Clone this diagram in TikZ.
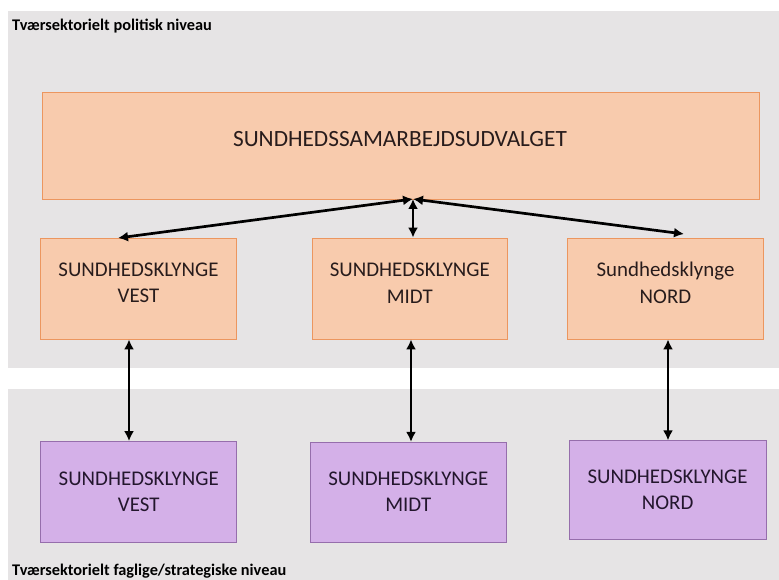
\documentclass[tikz,border=0pt]{standalone}
\usepackage{fontspec}
\setmainfont{Carlito}
\usetikzlibrary{arrows.meta}
\definecolor{panelgray}{RGB}{230,228,229}
\definecolor{orfill}{RGB}{248,203,173}
\definecolor{ordraw}{RGB}{236,150,95}
\definecolor{pufill}{RGB}{212,176,232}
\definecolor{pudraw}{RGB}{150,110,172}
\definecolor{txtdark}{RGB}{40,28,28}
\definecolor{txtpurp}{RGB}{35,22,45}
\tikzset{
  panel/.style={fill=panelgray, draw=none},
  orbox/.style={fill=orfill, draw=ordraw, line width=0.8pt},
  pubox/.style={fill=pufill, draw=pudraw, line width=0.8pt},
  boxtext/.style={font=\fontsize{20.9}{26.5}\selectfont, align=center, inner sep=0pt, text=txtdark},
  purtext/.style={boxtext, text=txtpurp},
  lvl/.style={font=\bfseries\fontsize{16.3}{18}\selectfont, anchor=base west, inner sep=0pt, text=black},
  conn/.style={line width=2.7pt, {Latex[length=10pt,width=10pt]}-{Latex[length=10pt,width=10pt]}},
}
\begin{document}
\begin{tikzpicture}[x=1pt,y=-1pt]
\useasboundingbox (0,0) rectangle (779,580);
\fill[white] (0,0) rectangle (779,580);
% panels
\path[panel] (8,11) rectangle (779,368);
\path[panel] (8,389) rectangle (779,580);
% top box
\path[orbox] (42,92) rectangle (759,199);
\node[boxtext, anchor=base, font=\fontsize{23.3}{26}\selectfont] (title) at (400,147) {SUNDHEDSSAMARBEJDSUDVALGET};
\coordinate (hub) at (413,199);
% orange boxes
\node[orbox, minimum width=196pt, minimum height=101pt, inner sep=0pt] (ov) at (138.7,288.5) {};
\node[orbox, minimum width=195pt, minimum height=101pt, inner sep=0pt] (om) at (409.8,288.5) {};
\node[orbox, minimum width=196pt, minimum height=101pt, inner sep=0pt] (on) at (665.5,288.5) {};
\node[boxtext] (tov) at (138.5,283) {SUNDHEDSKLYNGE\\VEST};
\node[boxtext] (tom) at (409.8,283) {SUNDHEDSKLYNGE\\MIDT};
\node[boxtext] (ton) at (665.5,283) {Sundhedsklynge\\NORD};
% purple boxes
\node[pubox, minimum width=196pt, minimum height=101pt, inner sep=0pt] (pv) at (138.7,492) {};
\node[pubox, minimum width=196pt, minimum height=100pt, inner sep=0pt] (pm) at (408.3,492.3) {};
\node[pubox, minimum width=197pt, minimum height=99pt, inner sep=0pt] (pn) at (667.6,490.3) {};
\node[purtext] (tpv) at (138.7,491.7) {SUNDHEDSKLYNGE\\VEST};
\node[purtext] (tpm) at (408.3,491.7) {SUNDHEDSKLYNGE\\MIDT};
\node[purtext] (tpn) at (667.6,490) {SUNDHEDSKLYNGE\\NORD};
% labels
\node[lvl] (l1) at (12,31) {Tværsektorielt politisk niveau};
\node[lvl] (l2) at (12,575.5) {Tværsektorielt faglige/strategiske niveau};
% connectors
\coordinate (av) at (118,238);
\coordinate (an) at (684,234);
\coordinate (xv) at (129,0);
\coordinate (xm) at (411,0);
\coordinate (xn) at (668,0);
\draw[conn] (hub) -- (av);
\draw[conn] (hub) -- (an);
\draw[conn] (hub) -- (hub |- om.north);
\draw[conn] (ov.south -| xv) -- (pv.north -| xv);
\draw[conn] (om.south -| xm) -- (pm.north -| xm);
\draw[conn] (on.south -| xn) -- (pn.north -| xn);
\end{tikzpicture}
\end{document}
